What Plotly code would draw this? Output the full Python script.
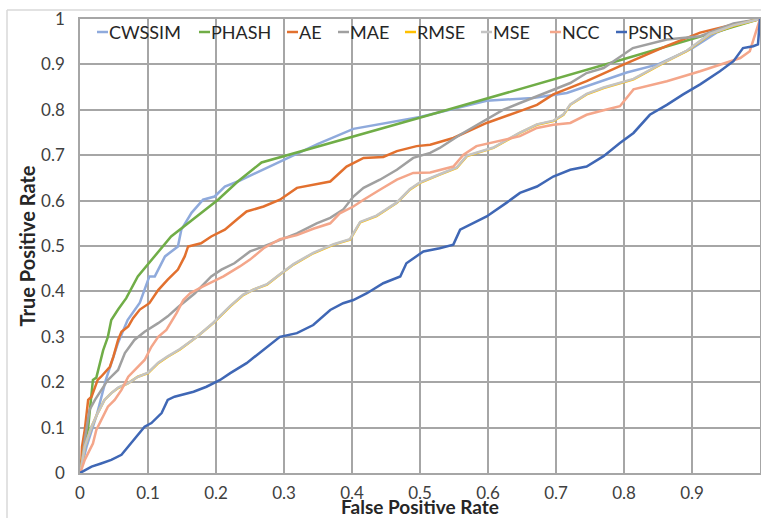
import plotly.graph_objects as go

# ---- data (FPR, TPR) ----
cwssim_x = [0, 0.01, 0.025, 0.038, 0.056, 0.07, 0.088, 0.102, 0.11, 0.125, 0.144, 0.149, 0.164, 0.181, 0.198, 0.213, 0.232,
            0.284, 0.35, 0.402, 0.5, 0.598, 0.666, 0.716, 0.765, 0.804, 0.85, 0.9, 0.936, 0.97, 1.0]
cwssim_y = [0, 0.06, 0.13, 0.205, 0.287, 0.337, 0.375, 0.433, 0.433, 0.477, 0.499, 0.536, 0.573, 0.602, 0.609, 0.631, 0.642,
            0.679, 0.725, 0.758, 0.784, 0.82, 0.826, 0.837, 0.862, 0.882, 0.9, 0.935, 0.97, 0.99, 1.0]

phash_x = [0, 0.002, 0.012, 0.016, 0.019, 0.024, 0.034, 0.041, 0.046, 0.056, 0.068, 0.085, 0.134, 0.203, 0.232, 0.267,
           0.515, 0.794, 0.9, 1.0]
phash_y = [0, 0.022, 0.10, 0.16, 0.205, 0.21, 0.27, 0.30, 0.337, 0.36, 0.385, 0.433, 0.521, 0.602, 0.642, 0.684,
           0.789, 0.909, 0.955, 1.0]

ae_x = [0, 0.002, 0.003, 0.007, 0.012, 0.017, 0.026, 0.031, 0.044, 0.049, 0.056, 0.061, 0.071, 0.078, 0.088, 0.102,
        0.115, 0.129, 0.144, 0.154, 0.159, 0.178, 0.193, 0.213, 0.232, 0.245, 0.27, 0.294, 0.319, 0.368, 0.392,
        0.417, 0.446, 0.466, 0.495, 0.515, 0.549, 0.598, 0.647, 0.672, 0.696, 0.745, 0.794, 0.863, 0.912, 0.961, 1.0]
ae_y = [0, 0.022, 0.058, 0.095, 0.161, 0.168, 0.205, 0.212, 0.234, 0.256, 0.293, 0.311, 0.323, 0.341, 0.36, 0.374,
        0.403, 0.426, 0.448, 0.477, 0.499, 0.506, 0.521, 0.536, 0.56, 0.576, 0.587, 0.602, 0.628, 0.642, 0.675,
        0.694, 0.696, 0.709, 0.72, 0.723, 0.738, 0.771, 0.797, 0.811, 0.834, 0.863, 0.896, 0.941, 0.97, 0.988, 1.0]

mae_x = [0, 0.002, 0.007, 0.014, 0.022, 0.031, 0.041, 0.056, 0.066, 0.08, 0.095, 0.115, 0.129, 0.144, 0.169, 0.193,
         0.208, 0.227, 0.25, 0.27, 0.319, 0.348, 0.368, 0.387, 0.402, 0.417, 0.441, 0.466, 0.49, 0.515, 0.529,
         0.559, 0.598, 0.622, 0.647, 0.672, 0.696, 0.721, 0.745, 0.77, 0.813, 0.863, 0.912, 0.961, 1.0]
mae_y = [0, 0.014, 0.073, 0.139, 0.161, 0.183, 0.205, 0.227, 0.264, 0.293, 0.311, 0.33, 0.345, 0.365, 0.396, 0.433,
         0.448, 0.462, 0.488, 0.499, 0.528, 0.55, 0.562, 0.58, 0.609, 0.628, 0.646, 0.668, 0.694, 0.705, 0.716,
         0.745, 0.778, 0.8, 0.815, 0.83, 0.844, 0.859, 0.881, 0.892, 0.936, 0.955, 0.962, 0.99, 1.0]

rmse_x = [0, 0.002, 0.007, 0.017, 0.026, 0.036, 0.046, 0.056, 0.071, 0.085, 0.1, 0.115, 0.129, 0.147, 0.172, 0.196,
          0.221, 0.24, 0.255, 0.275, 0.294, 0.314, 0.343, 0.373, 0.397, 0.412, 0.436, 0.466, 0.485, 0.5, 0.529,
          0.554, 0.569, 0.608, 0.647, 0.672, 0.696, 0.711, 0.721, 0.745, 0.77, 0.814, 0.863, 0.892, 0.926, 0.961, 1.0]
rmse_y = [0, 0.014, 0.058, 0.102, 0.132, 0.161, 0.176, 0.187, 0.198, 0.212, 0.22, 0.242, 0.256, 0.272, 0.3, 0.33,
          0.367, 0.392, 0.404, 0.415, 0.437, 0.459, 0.484, 0.503, 0.514, 0.552, 0.566, 0.595, 0.624, 0.639, 0.657,
          0.672, 0.698, 0.716, 0.749, 0.767, 0.775, 0.789, 0.811, 0.834, 0.848, 0.867, 0.907, 0.929, 0.966, 0.985, 1.0]

mse_x = rmse_x
mse_y = [0, 0.014, 0.058, 0.102, 0.132, 0.161, 0.176, 0.188, 0.198, 0.212, 0.221, 0.243, 0.257, 0.273, 0.3, 0.331,
         0.368, 0.393, 0.404, 0.416, 0.438, 0.46, 0.485, 0.504, 0.515, 0.553, 0.567, 0.596, 0.625, 0.64, 0.658,
         0.673, 0.699, 0.717, 0.75, 0.768, 0.776, 0.79, 0.812, 0.835, 0.849, 0.868, 0.908, 0.93, 0.967, 0.986, 1.0]

ncc_x = [0, 0.002, 0.007, 0.012, 0.019, 0.024, 0.031, 0.041, 0.051, 0.061, 0.071, 0.085, 0.095, 0.105, 0.115, 0.127,
         0.142, 0.152, 0.162, 0.181, 0.196, 0.211, 0.235, 0.25, 0.27, 0.294, 0.319, 0.343, 0.368, 0.382, 0.402,
         0.417, 0.441, 0.466, 0.49, 0.515, 0.549, 0.564, 0.583, 0.598, 0.647, 0.672, 0.696, 0.721, 0.745, 0.77,
         0.794, 0.814, 0.863, 0.912, 0.941, 0.971, 0.985, 1.0]
ncc_y = [0, 0.007, 0.029, 0.043, 0.065, 0.095, 0.117, 0.146, 0.161, 0.183, 0.212, 0.234, 0.249, 0.278, 0.3, 0.315,
         0.352, 0.381, 0.396, 0.411, 0.422, 0.433, 0.455, 0.47, 0.495, 0.515, 0.524, 0.538, 0.55, 0.572, 0.587,
         0.602, 0.624, 0.646, 0.661, 0.662, 0.675, 0.701, 0.72, 0.725, 0.742, 0.76, 0.767, 0.771, 0.789, 0.799,
         0.808, 0.845, 0.863, 0.885, 0.9, 0.914, 0.929, 1.0]

psnr_x = [0, 0.017, 0.031, 0.046, 0.061, 0.071, 0.08, 0.095, 0.105, 0.12, 0.129, 0.139, 0.167, 0.186, 0.206, 0.221,
          0.245, 0.27, 0.294, 0.319, 0.343, 0.368, 0.387, 0.402, 0.422, 0.446, 0.471, 0.48, 0.505, 0.529, 0.549,
          0.559, 0.578, 0.598, 0.627, 0.647, 0.672, 0.696, 0.721, 0.745, 0.77, 0.794, 0.814, 0.838, 0.863, 0.887,
          0.912, 0.926, 0.941, 0.961, 0.975, 0.99, 0.997, 1.0]
psnr_y = [0, 0.014, 0.021, 0.029, 0.04, 0.058, 0.073, 0.102, 0.11, 0.132, 0.161, 0.168, 0.179, 0.19, 0.205, 0.22,
          0.242, 0.271, 0.3, 0.308, 0.326, 0.359, 0.374, 0.381, 0.396, 0.418, 0.433, 0.462, 0.488, 0.495, 0.503,
          0.536, 0.55, 0.565, 0.595, 0.617, 0.631, 0.653, 0.668, 0.675, 0.698, 0.727, 0.749, 0.789, 0.811, 0.834,
          0.856, 0.87, 0.885, 0.907, 0.936, 0.94, 0.944, 1.0]

series_names = ["CWSSIM", "PHASH", "AE", "MAE", "RMSE", "MSE", "NCC", "PSNR"]
series_x = [cwssim_x, phash_x, ae_x, mae_x, rmse_x, mse_x, ncc_x, psnr_x]
series_y = [cwssim_y, phash_y, ae_y, mae_y, rmse_y, mse_y, ncc_y, psnr_y]
series_colors = ["#8FAADC", "#70AD47", "#E2702E", "#A0A0A0", "#FFC000", "#C4C4C4", "#F4A68A", "#3F67B5"]

x_ticks = [0, 0.1, 0.2, 0.3, 0.4, 0.5, 0.6, 0.7, 0.8, 0.9, 1]
x_labels = ["0", "0.1", "0.2", "0.3", "0.4", "0.5", "0.6", "0.7", "0.8", "0.9", "1"]
y_ticks = x_ticks
y_labels = x_labels

# legend layout (pixel positions of the legend entries, left edge of the line sample)
legend_px = [97, 199, 287, 338, 405, 481, 550, 616]

W, H = 761, 518
ML, MR, MT, MB = 80, 1, 19, 45
PW, PH = W - ML - MR, H - MT - MB


def px2paper_x(px):
    return (px - ML) / PW


def py2paper_y(py):
    return (H - MB - py) / PH


fig = go.Figure()
for name, xs, ys, col in zip(series_names, series_x, series_y, series_colors):
    fig.add_trace(go.Scatter(x=xs, y=ys, mode="lines", name=name, showlegend=False,
                             line=dict(color=col, width=2.5)))

FONT = "Lato, 'Liberation Sans', sans-serif"
grid = "#A6A6A6"
fig.update_layout(
    width=W, height=H,
    margin=dict(l=ML, r=MR, t=MT, b=MB, autoexpand=False),
    paper_bgcolor="white", plot_bgcolor="white",
    font=dict(family=FONT, color="#404040", size=17),
    showlegend=False,
    xaxis=dict(range=[0, 1], tickvals=x_ticks, ticktext=x_labels, showgrid=True, automargin=False,
               gridcolor=grid, gridwidth=1.5, zeroline=False, showline=True, linecolor=grid,
               linewidth=1.5, mirror=True, ticks="", ticklabelstandoff=4,
               title=dict(text="<b>False Positive Rate</b>", font=dict(size=19, color="#262626"), standoff=1)),
    yaxis=dict(range=[0, 1], tickvals=y_ticks, ticktext=y_labels, showgrid=True, automargin=False,
               gridcolor=grid, gridwidth=1.5, zeroline=False, showline=True, linecolor=grid,
               linewidth=1.5, mirror=True, ticks="", ticklabelstandoff=10,
               title=dict(text="<b>True Positive Rate</b>", font=dict(size=20, color="#262626"), standoff=0)),
)

# manual legend matching the reference's compact Excel-style legend
ly = py2paper_y(32)
for name, col, lx in zip(series_names, series_colors, legend_px):
    fig.add_shape(type="line", xref="paper", yref="paper",
                  x0=px2paper_x(lx), x1=px2paper_x(lx + 11), y0=ly, y1=ly,
                  line=dict(color=col, width=2.5))
    fig.add_annotation(xref="paper", yref="paper", x=px2paper_x(lx + 11), y=ly,
                       xanchor="left", yanchor="middle", text=name, showarrow=False,
                       font=dict(size=18, color="#262626", family=FONT), borderpad=0)

# outer chart frame (cropped chart border)
fig.add_shape(type="line", xref="paper", yref="paper", x0=px2paper_x(7), x1=px2paper_x(770),
              y0=py2paper_y(10), y1=py2paper_y(10), line=dict(color="#D9D9D9", width=1.5))
fig.add_shape(type="line", xref="paper", yref="paper", x0=px2paper_x(7), x1=px2paper_x(7),
              y0=py2paper_y(530), y1=py2paper_y(10), line=dict(color="#D9D9D9", width=1.5))

fig.write_html("out.html", config={"displayModeBar": False},
               post_script="document.body.style.margin='0px';")
